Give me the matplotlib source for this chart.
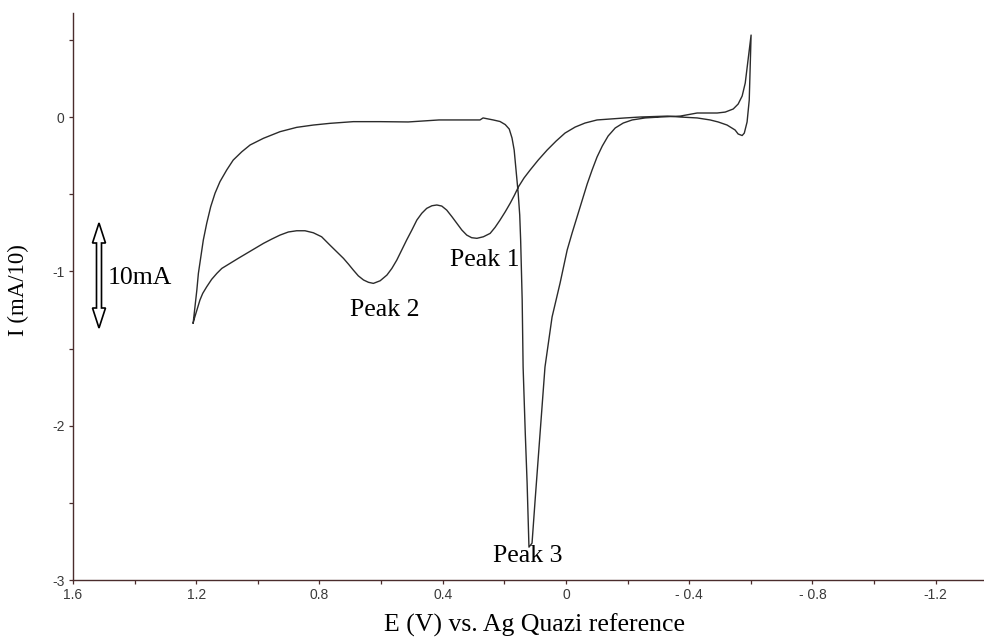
# Cyclic voltammogram with labelled reduction peaks

import numpy as np
import matplotlib
matplotlib.use('Agg')
import matplotlib.pyplot as plt
from matplotlib.patches import Polygon

plt.rcParams['axes.unicode_minus'] = False

# forward sweep: left corner -> flat top -> Peak 3 -> spike at the right end
e_fwd = [1.210, 1.204, 1.198, 1.193, 1.185, 1.177, 1.166, 1.153, 1.139, 1.123,
         1.101, 1.080, 1.052, 1.025, 0.982, 0.928, 0.874, 0.820, 0.766, 0.690,
         0.603, 0.512, 0.412, 0.279, 0.269, 0.236, 0.214, 0.197, 0.184, 0.175,
         0.168, 0.162, 0.155, 0.150, 0.147, 0.142, 0.139, 0.132, 0.126, 0.123,
         0.120, 0.110, 0.100, 0.084, 0.068, 0.045, 0.019, -0.004, -0.020, -0.036,
         -0.053, -0.069, -0.085, -0.101, -0.118, -0.137, -0.160, -0.186, -0.215, -0.257,
         -0.306, -0.371, -0.426, -0.491, -0.517, -0.543, -0.559, -0.572, -0.582, -0.588,
         -0.595, -0.601]
i_fwd = [-1.335, -1.229, -1.121, -1.013, -0.905, -0.797, -0.689, -0.581, -0.494, -0.419,
         -0.343, -0.279, -0.225, -0.181, -0.138, -0.095, -0.067, -0.052, -0.041, -0.030,
         -0.030, -0.032, -0.019, -0.019, -0.006, -0.019, -0.029, -0.049, -0.078, -0.136,
         -0.214, -0.343, -0.493, -0.635, -0.797, -1.186, -1.620, -2.048, -2.372, -2.592,
         -2.787, -2.761, -2.482, -2.048, -1.620, -1.296, -1.076, -0.862, -0.752, -0.648,
         -0.538, -0.434, -0.343, -0.259, -0.188, -0.123, -0.071, -0.039, -0.019, -0.006,
         0.000, 0.006, 0.026, 0.026, 0.032, 0.052, 0.084, 0.136, 0.220, 0.318,
         0.434, 0.531]

# reverse sweep: spike -> small dip -> Peak 1 -> Peak 2 -> back to left corner
e_rev = [-0.601, -0.598, -0.595, -0.588, -0.579, -0.572, -0.559, -0.549, -0.523, -0.494,
         -0.468, -0.426, -0.371, -0.329, -0.241, -0.192, -0.144, -0.101, -0.062, -0.030,
         0.003, 0.032, 0.061, 0.090, 0.116, 0.136, 0.154, 0.167, 0.181, 0.197,
         0.214, 0.230, 0.246, 0.268, 0.289, 0.306, 0.322, 0.338, 0.354, 0.370,
         0.387, 0.403, 0.419, 0.435, 0.452, 0.468, 0.484, 0.500, 0.517, 0.533,
         0.549, 0.565, 0.581, 0.603, 0.625, 0.641, 0.657, 0.674, 0.690, 0.706,
         0.722, 0.744, 0.766, 0.793, 0.820, 0.847, 0.874, 0.901, 0.928, 0.955,
         0.982, 1.009, 1.036, 1.063, 1.090, 1.117, 1.133, 1.150, 1.166, 1.179,
         1.188, 1.198, 1.206, 1.210]
i_rev = [0.531, 0.324, 0.110, -0.032, -0.104, -0.120, -0.110, -0.084, -0.052, -0.032,
         -0.019, -0.006, 0.000, 0.006, 0.000, -0.006, -0.013, -0.019, -0.039, -0.065,
         -0.104, -0.156, -0.214, -0.279, -0.343, -0.395, -0.452, -0.506, -0.559, -0.614,
         -0.668, -0.715, -0.754, -0.776, -0.786, -0.782, -0.765, -0.732, -0.689, -0.646,
         -0.603, -0.577, -0.570, -0.575, -0.592, -0.624, -0.668, -0.732, -0.797, -0.862,
         -0.927, -0.981, -1.024, -1.061, -1.078, -1.071, -1.056, -1.029, -0.992, -0.953,
         -0.916, -0.873, -0.830, -0.776, -0.750, -0.737, -0.737, -0.745, -0.765, -0.791,
         -0.819, -0.851, -0.883, -0.915, -0.948, -0.981, -1.013, -1.052, -1.100, -1.143,
         -1.186, -1.251, -1.305, -1.335]

x_ticks = [1.6, 1.2, 0.8, 0.4, 0.0, -0.4, -0.8, -1.2]
x_tick_labels = ['1.6', '1.2', '0.8', '0.4', '0', '- 0.4', '- 0.8', '-1.2']
y_ticks = [0, -1, -2, -3]
y_tick_labels = ['0', '-1', '-2', '-3']

peak_names = ['Peak 1', 'Peak 2', 'Peak 3']
peak_text_e = [0.262, 0.587, 0.123]
peak_text_i = [-0.927, -1.251, -2.845]

W, H = 984, 643
axis_col = '#4a2c2c'
serif = ['Liberation Serif', 'DejaVu Serif']

fig = plt.figure(figsize=(W / 100, H / 100), dpi=100)
ax = fig.add_axes([73 / W, 1 - 580 / H, (W - 73) / W, (580 - 13) / H])

ax.plot(e_fwd + e_rev, i_fwd + i_rev, color='#2b2b2b', linewidth=1.0)

ax.set_xlim(1.6, -1.357)
ax.set_ylim(-3, 0.674)

for side in ['top', 'right']:
    ax.spines[side].set_visible(False)
for side in ['left', 'bottom']:
    ax.spines[side].set_color(axis_col)
    ax.spines[side].set_linewidth(1.0)

ax.set_xticks(x_ticks)
ax.set_xticklabels(x_tick_labels)
ax.set_xticks(np.arange(1.4, -1.35, -0.4), minor=True)
ax.set_yticks(y_ticks)
ax.set_yticklabels(y_tick_labels)
ax.set_yticks([0.5, -0.5, -1.5, -2.5], minor=True)
ax.tick_params(which='both', direction='out', length=3, width=0.9, color=axis_col,
               labelcolor='#3a3a3a', labelsize=10, pad=3)
for lab in ax.get_xticklabels() + ax.get_yticklabels():
    lab.set_family(['Liberation Sans', 'DejaVu Sans'])

# axis titles
ax.set_xlabel('E (V) vs. Ag Quazi reference', family=serif, fontsize=18.5)
ax.xaxis.set_label_coords((535 - 73) / (W - 73), (580 - 625) / 567)
ax.xaxis.label.set_va('center')
ax.set_ylabel('I (mA/10)', family=serif, fontsize=16.5)
ax.yaxis.set_label_coords((18 - 73) / (W - 73), (580 - 290) / 567)
ax.yaxis.label.set_va('center')

for name, pe, pi in zip(peak_names, peak_text_e, peak_text_i):
    ax.text(pe, pi, name, family=serif, fontsize=18.5, ha='center', va='center')

# 10mA scale bar: hollow double-headed arrow
arrow_px = [(99, 223), (105.5, 243), (101.5, 243), (101.5, 308), (105.5, 308),
            (99, 328), (92.5, 308), (96.5, 308), (96.5, 243), (92.5, 243)]
arrow = Polygon([(px / W, 1 - py / H) for px, py in arrow_px], closed=True,
                transform=fig.transFigure, facecolor='white', edgecolor='black',
                linewidth=1.2)
fig.patches.append(arrow)
fig.text(140 / W, 1 - 278 / H, '10mA', family=serif, fontsize=18.5,
         ha='center', va='center')

fig.savefig('out.png', dpi=100)
